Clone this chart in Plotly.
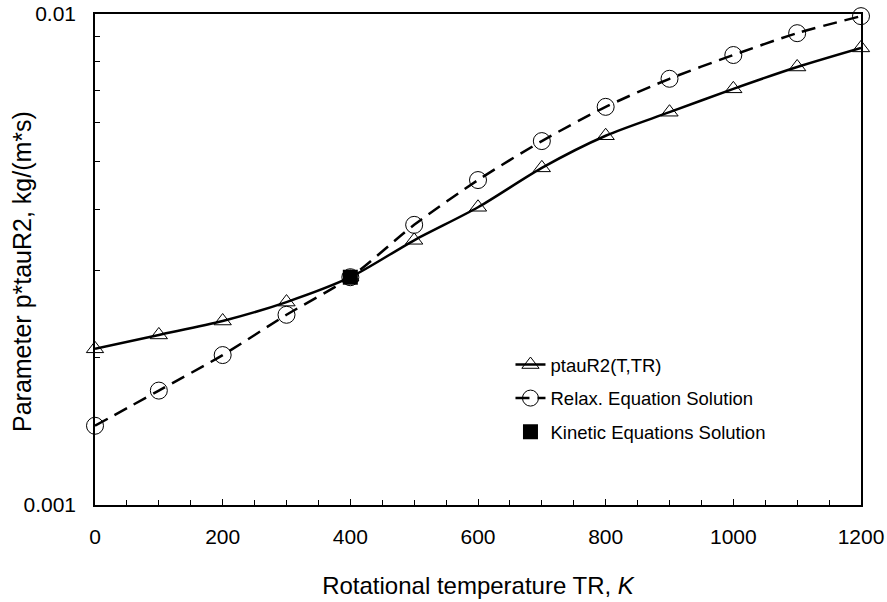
import plotly.graph_objects as go

temps = [0, 100, 200, 300, 400, 500, 600, 700, 800, 900, 1000, 1100, 1200]
ptau_formula = [0.00208, 0.00222, 0.00237, 0.00259, 0.00291, 0.00346, 0.00404,
                0.00486, 0.00565, 0.00631, 0.00704, 0.00780, 0.00853]
ptau_relax = [0.00145, 0.00171, 0.00202, 0.00244, 0.00291, 0.00372, 0.00459,
              0.00551, 0.00647, 0.00738, 0.00825, 0.00914, 0.00990]
kin_T = [400]
kin_val = [0.00291]

x_ticks = [0, 200, 400, 600, 800, 1000, 1200]
y_ticks = [0.001, 0.01]
y_ticktext = ["0.001", "0.01"]
y_minor = [0.002, 0.003, 0.004, 0.005, 0.006, 0.007, 0.008, 0.009]

font = "Liberation Sans, Arial, sans-serif"

fig = go.Figure()
fig.add_trace(go.Scatter(
    x=temps, y=ptau_formula, name="ptauR2(T,TR)", mode="lines+markers",
    line=dict(color="black", width=2.5, shape="spline", smoothing=0.8),
    marker=dict(symbol="triangle-up-open", size=15, color="black", line=dict(width=1)),
    cliponaxis=False, legendgroup="a"))
fig.add_trace(go.Scatter(
    x=temps, y=ptau_relax, name="Relax. Equation Solution", mode="lines+markers",
    line=dict(color="black", width=2.5, shape="spline", smoothing=0.8, dash="14px,8px"),
    marker=dict(symbol="circle-open", size=17, color="black", line=dict(width=1)),
    cliponaxis=False, legendgroup="b"))
fig.add_trace(go.Scatter(
    x=kin_T, y=kin_val, name="Kinetic Equations Solution", mode="markers",
    marker=dict(symbol="square", size=15, color="black"),
    cliponaxis=False, legendgroup="c"))

fig.update_layout(
    width=887, height=602,
    margin=dict(l=95, r=26, t=14, b=97, autoexpand=False),
    paper_bgcolor="white", plot_bgcolor="white",
    font=dict(family=font, size=21, color="black"),
    legend=dict(x=0.5424, y=0.3238, xanchor="left", yanchor="top",
                font=dict(size=18.5), bgcolor="rgba(0,0,0,0)",
                traceorder="grouped", tracegroupgap=6.5),
    showlegend=True,
    annotations=[dict(text="Parameter p*tauR2, kg/(m*s)", xref="paper", yref="paper",
                      x=-0.0953, y=0.4745, xanchor="center", yanchor="middle",
                      textangle=-90, showarrow=False, font=dict(size=25))],
)
fig.update_xaxes(
    range=[0, 1200], tickvals=x_ticks, ticks="inside", ticklen=6, tickwidth=1,
    tickcolor="black", showline=True, linecolor="black", linewidth=1.5, mirror=True,
    showgrid=False, zeroline=False, ticklabelstandoff=12, automargin=False,
    ticklabeloverflow="allow",
    minor=dict(dtick=50, tick0=0, ticks="inside", ticklen=5, tickcolor="black"),
    title=dict(text="Rotational temperature TR, <i>K</i>", font=dict(size=24), standoff=30),
)
fig.update_yaxes(
    type="log", range=[-3, -2], tickvals=y_ticks, ticktext=y_ticktext,
    ticks="inside", ticklen=6, tickcolor="black", showline=True, linecolor="black",
    linewidth=1.5, mirror=True, showgrid=False, zeroline=False, ticklabelstandoff=13,
    automargin=False, ticklabeloverflow="allow",
    minor=dict(tickvals=y_minor, ticks="inside", ticklen=5, tickcolor="black"),
)

fig.write_html("out.html", config={"displayModeBar": False},
               post_script="document.body.style.margin='0';document.body.style.overflow='hidden';")
